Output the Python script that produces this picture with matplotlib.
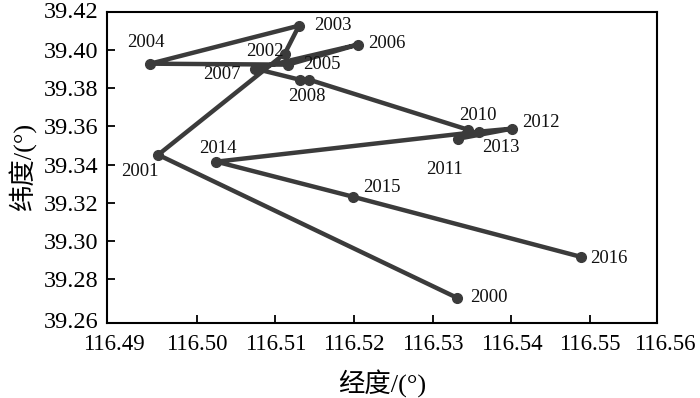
import matplotlib
matplotlib.use("Agg")
import matplotlib.pyplot as plt
import matplotlib.transforms as mtransforms

# Track of centre point by year (longitude, latitude)
years = [str(y) for y in range(2000, 2017)]
lon = [116.5331, 116.4951, 116.5112, 116.5130, 116.4941, 116.5116,
       116.5205, 116.5074, 116.5131, 116.5143, 116.5345, 116.5332,
       116.5401, 116.5359, 116.5025, 116.5199, 116.5488]
lat = [39.2702, 39.3451, 39.3981, 39.4127, 39.3928, 39.3923,
       39.4028, 39.3902, 39.3844, 39.3844, 39.3582, 39.3535,
       39.3588, 39.3572, 39.3415, 39.3231, 39.2917]

# label offsets in pixels (dx, dy); 2009 has no label
label_off = {
    "2000": (32, 0), "2001": (-18, -17), "2002": (-20, 2), "2003": (34, 0),
    "2004": (-4, 21), "2005": (34, 0), "2006": (29, 1), "2007": (-33, -6),
    "2008": (7, -17), "2010": (10, 14), "2011": (-13, -31), "2012": (29, 6),
    "2013": (22, -16), "2014": (2, 13), "2015": (29, 9), "2016": (28, -2),
}

xticks = [116.50, 116.51, 116.52, 116.53, 116.54, 116.55]
yticks = [39.28, 39.30, 39.32, 39.34, 39.36, 39.38, 39.40]
x_end = [116.49, 116.56]
y_end = [39.26, 39.42]

serif = ["Liberation Serif", "Noto Sans CJK SC"]
plt.rcParams["font.family"] = serif

fig = plt.figure(figsize=(7.0, 3.98), dpi=100)
ax = fig.add_axes([107 / 700, 1 - 322.5 / 398, 550 / 700, 310.2 / 398])

col = "#3b3b3b"
ax.plot(lon, lat, color=col, linewidth=3.2, marker="o", markersize=7,
        solid_capstyle="round", solid_joinstyle="round", zorder=3)

for yr, x, y in zip(years, lon, lat):
    if yr not in label_off:
        continue
    dx, dy = label_off[yr]
    ax.annotate(yr, (x, y), xytext=(dx, dy), textcoords="offset pixels",
                ha="center", va="center", fontsize=13.5, color="#111111")

ax.set_xlim(116.4886, 116.5585)
ax.set_ylim(39.2573, 39.4197)
ax.set_xticks(xticks)
ax.set_xticklabels([f"{v:.2f}" for v in xticks])
ax.set_yticks(yticks)
ax.set_yticklabels([f"{v:.2f}" for v in yticks])
ax.tick_params(direction="in", length=6, width=1.3, top=False, right=False, pad=6)
ax.tick_params(axis="x", labelsize=16.5, pad=8)
ax.tick_params(axis="y", labelsize=17.5)

# end labels lying past the last tick marks
shift_x = mtransforms.ScaledTranslation(-4 / 100, -11 / 100, fig.dpi_scale_trans)
bx = mtransforms.blended_transform_factory(ax.transData, ax.transAxes) + shift_x
for v in x_end:
    ax.text(v, 0, f"{v:.2f}", transform=bx, ha="center", va="top",
            fontsize=16.5, clip_on=False)
shift_y = mtransforms.ScaledTranslation(-8 / 100, 0, fig.dpi_scale_trans)
for v, yy in zip(y_end, (0.0, 1.0)):
    ax.text(0, yy, f"{v:.2f}", transform=ax.transAxes + shift_y,
            ha="right", va="center", fontsize=17.5, clip_on=False)

for s in ax.spines.values():
    s.set_linewidth(1.5)

ax.set_xlabel("经度/(°)", fontsize=19, labelpad=11, family=serif)
ax.set_ylabel("纬度/(°)", fontsize=19, labelpad=5, family=serif)

fig.savefig("out.png", dpi=100)
